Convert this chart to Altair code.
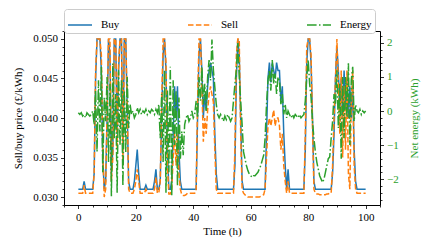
import altair as alt
import pandas as pd

# time grid (h), half-hour steps
hours = [i * 0.5 for i in range(201)]

buy = [
    0.031, 0.031, 0.031, 0.031, 0.032, 0.031, 0.031, 0.031, 0.031, 0.031,
    0.031, 0.033, 0.045, 0.050, 0.050, 0.050, 0.046, 0.035, 0.031, 0.032,
    0.040, 0.050, 0.048, 0.033, 0.036, 0.050, 0.050, 0.038, 0.046, 0.050,
    0.050, 0.036, 0.050, 0.050, 0.041, 0.032, 0.031, 0.031, 0.031, 0.032,
    0.034, 0.036, 0.033, 0.031, 0.031, 0.031, 0.031, 0.0315, 0.031, 0.031,
    0.031, 0.031, 0.031, 0.032, 0.0335, 0.031, 0.031, 0.032, 0.040, 0.048,
    0.050, 0.046, 0.036, 0.031, 0.031, 0.032, 0.038, 0.044, 0.040, 0.044,
    0.036, 0.032, 0.031, 0.031, 0.031, 0.031, 0.031, 0.031, 0.031, 0.031,
    0.031, 0.031, 0.031, 0.040, 0.048, 0.050, 0.046, 0.040, 0.043, 0.041,
    0.044, 0.046, 0.047, 0.046, 0.045, 0.038, 0.033, 0.031, 0.031, 0.031,
    0.031, 0.031, 0.031, 0.031, 0.031, 0.031, 0.031, 0.031, 0.031, 0.034,
    0.045, 0.050, 0.048, 0.040, 0.032, 0.031, 0.031, 0.031, 0.031, 0.031,
    0.031, 0.031, 0.031, 0.031, 0.031, 0.031, 0.031, 0.031, 0.031, 0.031,
    0.031, 0.038, 0.045, 0.047, 0.0445, 0.047, 0.046, 0.045, 0.047, 0.046,
    0.046, 0.042, 0.044, 0.038, 0.034, 0.031, 0.0335, 0.031, 0.031, 0.031,
    0.031, 0.031, 0.031, 0.031, 0.031, 0.031, 0.031, 0.031, 0.036, 0.047,
    0.050, 0.050, 0.047, 0.040, 0.032, 0.031, 0.031, 0.031, 0.031, 0.031,
    0.031, 0.031, 0.031, 0.031, 0.031, 0.031, 0.031, 0.033, 0.038, 0.045,
    0.049, 0.046, 0.041, 0.045, 0.040, 0.046, 0.041, 0.045, 0.040, 0.044,
    0.040, 0.044, 0.036, 0.032, 0.031, 0.031, 0.031, 0.031, 0.031, 0.031,
    0.031,
]

sell = [
    0.0305, 0.0305, 0.0305, 0.0305, 0.0315, 0.0305, 0.0305, 0.0305, 0.0305, 0.0305,
    0.0305, 0.033, 0.046, 0.050, 0.050, 0.050, 0.048, 0.036, 0.030, 0.031,
    0.041, 0.050, 0.050, 0.032, 0.035, 0.050, 0.050, 0.036, 0.047, 0.050,
    0.050, 0.034, 0.050, 0.050, 0.042, 0.031, 0.0305, 0.0305, 0.0305, 0.031,
    0.032, 0.0335, 0.032, 0.0305, 0.0305, 0.0305, 0.0305, 0.031, 0.0305, 0.0305,
    0.0305, 0.0305, 0.0305, 0.031, 0.0325, 0.0305, 0.0305, 0.032, 0.042, 0.050,
    0.050, 0.047, 0.034, 0.0304, 0.0304, 0.031, 0.035, 0.038, 0.034, 0.038,
    0.033, 0.031, 0.0303, 0.0302, 0.0302, 0.0303, 0.0305, 0.0305, 0.0305, 0.0305,
    0.0305, 0.0305, 0.031, 0.042, 0.050, 0.050, 0.044, 0.037, 0.040, 0.038,
    0.041, 0.043, 0.044, 0.043, 0.042, 0.036, 0.031, 0.0305, 0.0305, 0.0305,
    0.0305, 0.0305, 0.0305, 0.0305, 0.0305, 0.0305, 0.0305, 0.0305, 0.0305, 0.036,
    0.048, 0.050, 0.050, 0.038, 0.031, 0.0305, 0.0303, 0.0301, 0.030, 0.030,
    0.030, 0.030, 0.030, 0.030, 0.030, 0.030, 0.030, 0.0301, 0.0302, 0.0303,
    0.031, 0.035, 0.039, 0.040, 0.039, 0.040, 0.041, 0.039, 0.040, 0.040,
    0.039, 0.036, 0.038, 0.034, 0.032, 0.0305, 0.032, 0.0305, 0.0305, 0.0305,
    0.0305, 0.0305, 0.0305, 0.0305, 0.0305, 0.0305, 0.0305, 0.0305, 0.038, 0.049,
    0.050, 0.050, 0.048, 0.039, 0.031, 0.0305, 0.0304, 0.0304, 0.0303, 0.0303,
    0.0303, 0.0303, 0.0303, 0.0304, 0.0304, 0.0305, 0.0305, 0.034, 0.040, 0.045,
    0.050, 0.044, 0.038, 0.046, 0.035, 0.044, 0.036, 0.046, 0.033, 0.031,
    0.042, 0.046, 0.034, 0.031, 0.0305, 0.0305, 0.0305, 0.0305, 0.0305, 0.0305,
    0.0305,
]

energy = [
    -0.05, -0.1, -0.05, -0.15, -0.1, -0.2, -0.05, -0.1, -0.15, -0.1,
    0.0, -0.4, 0.6, -1.2, 0.9, -0.6, 1.3, -1.8, 0.4, -0.3,
    1.0, -1.5, 0.8, -2.5, 1.4, -0.8, 0.5, -2.4, 1.2, -1.0,
    0.9, -2.2, 0.6, -1.2, 1.0, -0.5, 0.2, -0.1, 0.0, -0.2,
    -0.1, 0.1, -0.05, 0.05, -0.1, 0.0, -0.05, 0.05, -0.1, 0.0,
    -0.05, 0.05, 0.0, -0.1, 0.05, -0.05, 0.2, -0.8, 0.5, -1.5,
    1.2, -2.4, 0.6, -1.8, 1.3, -2.5, 0.9, -1.0, 0.6, -2.2,
    0.4, -1.4, -0.6, -1.3, -0.4, -0.2, -0.1, -0.3, -0.2, 0.0,
    -0.2, -0.1, 0.3, -0.2, 1.0, 0.3, 1.3, 0.2, 0.8, 0.0,
    1.0, 1.5, 0.9, 2.1, 1.2, 0.7, 0.2, -0.1, -0.2, -0.1,
    -0.2, -0.3, -0.15, -0.25, -0.1, -0.2, -0.3, -0.2, 0.3, 0.8,
    1.2, 2.0, 1.0, 0.3, -0.4, -1.2, -1.4, -1.6, -1.75, -1.85,
    -1.9, -1.95, -1.9, -1.9, -1.85, -1.8, -1.7, -1.6, -1.45, -1.3,
    -0.8, 0.2, 0.9, 1.2, 0.6, 1.5, 0.8, 1.1, 0.5, 1.0,
    0.9, 0.2, 0.5, -0.1, 0.2, -0.2, 0.0, -0.1, -0.2, -0.1,
    -0.2, -0.1, -0.15, -0.2, -0.1, -0.2, -0.15, -0.1, 0.3, 1.0,
    1.5, 0.8, 0.4, -0.3, -0.8, -1.2, -1.5, -1.7, -1.9, -2.0,
    -2.1, -2.0, -1.8, -1.6, -1.4, -1.35, -0.8, -0.3, 0.5, 0.2,
    1.2, -0.5, 0.8, -1.4, 1.0, -0.8, 1.0, -0.2, 1.4, -1.0,
    0.9, 1.3, -0.3, 0.2, 0.0, -0.05, 0.05, -0.1, 0.0, -0.05,
    0.0,
]

series_names = ["Buy", "Sell", "Energy"]
series_colors = ["#1f77b4", "#ff7f0e", "#2ca02c"]
series_dashes = [[1, 0], [5.5, 2.4], [9.6, 2.4, 1.5, 2.4]]

x_ticks = [-5, 0, 5, 10, 15, 20, 25, 30, 35, 40, 45, 50, 55, 60, 65, 70, 75, 80, 85, 90, 95, 100, 105]
left_ticks = [round(0.029 + 0.001 * i, 3) for i in range(23)]
right_major = [-2, -1, 0, 1, 2]
right_minor = [-2.6, -2.4, -2.2, -1.8, -1.6, -1.4, -1.2, -0.8, -0.6, -0.4, -0.2,
               0.2, 0.4, 0.6, 0.8, 1.2, 1.4, 1.6, 1.8, 2.2]

frames = []
for name, vals in zip(series_names, [buy, sell, energy]):
    frames.append(pd.DataFrame({"t": hours, "value": vals, "series": name}))
df = pd.concat(frames, ignore_index=True)

FONT = "'Liberation Serif', 'Times New Roman', Times, serif"
GREEN = "#2ca02c"
E_DOMAIN = [-2.76, 2.35]


def cond(test, major, minor):
    return {"condition": {"test": test, "value": major}, "value": minor}


X_MAJOR = "datum.value % 20 === 0"
L_MAJOR = "abs(datum.value*200 - round(datum.value*200)) < 0.01"

color_scale = alt.Scale(domain=series_names, range=series_colors)
dash_scale = alt.Scale(domain=series_names, range=series_dashes)
legend = alt.Legend(
    orient="none", legendX=0, legendY=-22, direction="horizontal", columns=3,
    gridAlign="each",
    symbolType="stroke", symbolSize=576, symbolStrokeWidth=1.5,
    labelFont=FONT, labelFontSize=11, labelColor="black", labelOffset=8,
    columnPadding=65, padding=3, strokeColor="#cccccc", fillColor="white",
    cornerRadius=3,
)

x_axis = alt.Axis(
    values=x_ticks,
    labelExpr=f"{X_MAJOR} ? datum.label : ''",
    tickSize=cond(X_MAJOR, 3.5, 2),
    labelPadding=3, titlePadding=3, labelOverlap=False, labelFlush=False,
)
left_axis = alt.Axis(
    values=left_ticks, format=".3f",
    labelExpr=f"{L_MAJOR} ? datum.label : ''",
    tickSize=cond(L_MAJOR, 3.5, 2),
    labelPadding=3, titlePadding=9, labelOverlap=False, labelFlush=False,
)
right_axis = alt.Axis(
    orient="right", values=right_major, format="d", tickSize=3.5,
    labelColor=GREEN, titleColor=GREEN, titleAngle=270,
    titleAlign="center", titleBaseline="top",
    labelPadding=3, titlePadding=10, labelOverlap=False, labelFlush=False,
)
right_minor_axis = alt.Axis(
    orient="right", values=right_minor, tickSize=2, labels=False, title=None,
)

base = alt.Chart(df)
x_enc = alt.X("t:Q", title="Time (h)", scale=alt.Scale(domain=[-5, 105], nice=False, zero=False), axis=x_axis)

price = base.transform_filter("datum.series != 'Energy'").mark_line(strokeWidth=1.5).encode(
    x=x_enc,
    y=alt.Y("value:Q", title="Sell/buy price (£/kWh)",
            scale=alt.Scale(domain=[0.029, 0.051], nice=False, zero=False), axis=left_axis),
    color=alt.Color("series:N", scale=color_scale, legend=legend, title=None),
    strokeDash=alt.StrokeDash("series:N", scale=dash_scale, legend=legend, title=None),
)

energy_layer = base.transform_filter("datum.series == 'Energy'").mark_line(strokeWidth=1.5).encode(
    x=x_enc,
    y=alt.Y("value:Q", title="Net energy (kWh)",
            scale=alt.Scale(domain=E_DOMAIN, nice=False, zero=False), axis=right_axis),
    color=alt.Color("series:N", scale=color_scale, legend=legend, title=None),
    strokeDash=alt.StrokeDash("series:N", scale=dash_scale, legend=legend, title=None),
)

energy_minor = base.transform_filter("datum.series == 'Energy'").mark_line(
    strokeWidth=0, strokeOpacity=0, color=GREEN
).encode(
    x=x_enc,
    y=alt.Y("value:Q", title=None,
            scale=alt.Scale(domain=E_DOMAIN, nice=False, zero=False), axis=right_minor_axis),
)

chart = alt.layer(price, energy_minor, energy_layer).resolve_scale(y="independent").properties(
    width=316, height=174,
    padding={"left": 56, "top": 23, "right": 41, "bottom": 39},
    autosize=alt.AutoSizeParams(type="none"),
).configure_view(stroke="black", strokeWidth=1).configure_axis(
    labelFont=FONT, titleFont=FONT, labelFontSize=11, titleFontSize=11,
    titleFontWeight="normal", labelColor="black", titleColor="black",
    grid=False, domain=False, tickColor="black", tickWidth=0.8,
)

chart.save("out.html", embed_options={"renderer": "svg", "actions": False})
